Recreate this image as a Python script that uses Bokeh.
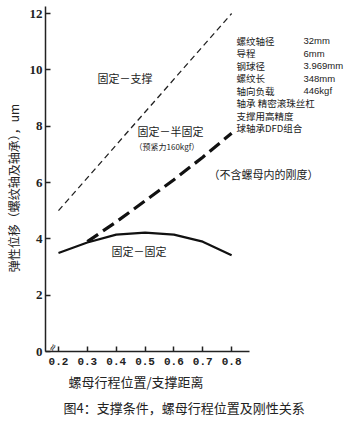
from bokeh.plotting import figure
from bokeh.models import Range1d, Label, FixedTicker, Title
from bokeh.embed import file_html
from bokeh.resources import INLINE

# ---- data ----
x_ticks = [0.2, 0.3, 0.4, 0.5, 0.6, 0.7, 0.8]
y_ticks = [0, 2, 4, 6, 8, 10, 12]

support_x = [0.2, 0.8]
support_y = [5.0, 12.0]

semi_x = [0.3, 0.4, 0.5, 0.6, 0.7, 0.8]
semi_y = [3.9, 4.6, 5.35, 6.1, 6.9, 7.75]

fixed_x = [0.2, 0.3, 0.4, 0.5, 0.6, 0.7, 0.8]
fixed_y = [3.5, 3.87, 4.15, 4.22, 4.15, 3.9, 3.42]

spec_names = ["螺纹轴径", "导程", "钢球径", "螺纹长", "轴向负载",
              "轴承 精密滚珠丝杠", "支撑用高精度", "球轴承DFD组合"]
spec_values = ["32mm", "6mm", "3.969mm", "348mm", "446kgf", "", "", ""]

y_title = "弹性位移（螺纹轴及轴承），um"
x_title = "螺母行程位置/支撑距离"
caption = "图4：支撑条件，螺母行程位置及刚性关系"

W, H = 352, 427
FL, FR, FT, FB = 45, 352, 0, 351
PX_X = 204 / 0.707      # pixels per x unit
PX_Y = 345 / 12.25      # pixels per y unit
X0 = 0.155
X1 = X0 + (FR - FL) / PX_X
Y0 = 0.0
Y1 = Y0 + (FB - FT) / PX_Y

p = figure(width=W, height=H, output_backend="svg", toolbar_location=None,
           x_range=Range1d(X0, X1), y_range=Range1d(Y0, Y1),
           min_border_left=FL, min_border_right=0,
           min_border_top=0, min_border_bottom=H - FB)
p.outline_line_color = None
p.grid.visible = False
p.background_fill_color = "white"
p.border_fill_color = "white"

for ax in (p.xaxis[0], p.yaxis[0]):
    ax.axis_line_width = 1.5
    ax.axis_line_color = "#222222"
    ax.major_tick_line_color = "#222222"
    ax.major_tick_line_width = 1.5
    ax.major_tick_in = 5
    ax.major_tick_out = 0
    ax.minor_tick_line_color = None
    ax.major_label_text_color = "#222222"

p.xaxis.bounds = (X0, 0.862)
p.yaxis.bounds = (0, 12.25)
p.xaxis.ticker = FixedTicker(ticks=x_ticks)
p.yaxis.ticker = FixedTicker(ticks=y_ticks)
p.xaxis.major_label_text_font = "Liberation Mono"
p.xaxis.major_label_text_font_style = "bold"
p.xaxis.major_label_text_font_size = "11px"
p.xaxis.major_label_standoff = 6
p.yaxis.major_label_text_font = "Liberation Serif"
p.yaxis.major_label_text_font_style = "bold"
p.yaxis.major_label_text_font_size = "13px"
p.yaxis.major_label_standoff = 3

CJK = "Noto Sans CJK SC"

p.yaxis.axis_label = y_title + "\u3000\u3000"
p.yaxis.axis_label_text_font = CJK
p.yaxis.axis_label_text_font_style = "normal"
p.yaxis.axis_label_text_font_size = "12px"
p.yaxis.axis_label_text_color = "#222222"
p.yaxis.axis_label_standoff = 5

xt = Title(text=x_title, align="left", offset=68 - FL, standoff=4,
           text_font=CJK, text_font_size="13px", text_font_style="normal",
           text_color="#222222")
p.add_layout(xt, "below")
ct = Title(text=caption, align="left", offset=63 - FL, standoff=6,
           text_font=CJK, text_font_size="13px", text_font_style="normal",
           text_color="#222222")
p.add_layout(ct, "below")

p.line(support_x, support_y, line_color="#222222", line_width=1.3, line_dash="6 4")
p.line(semi_x, semi_y, line_color="#111111", line_width=3.2, line_dash="13 6")
p.line(fixed_x, fixed_y, line_color="#111111", line_width=2.2)


def dx(px):
    return X0 + (px - FL) / PX_X


def dy(py):
    return Y0 + (FB - py) / PX_Y


def txt(s, px, py, size, align="left", font=CJK, angle=0.0):
    p.add_layout(Label(x=dx(px), y=dy(py), text=s, text_font=font,
                       text_font_size=size, text_align=align,
                       text_baseline="middle", text_color="#222222",
                       angle=angle))


txt("固定－支撑", 97, 77, "11px")
txt("固定－半固定", 137, 130, "11px")
txt("（预紧力160kgf）", 134, 146, "8px")
txt("（不含螺母内的刚度）", 208, 173, "11px")
txt("固定－固定", 111, 250, "11px")

for i, (n, v) in enumerate(zip(spec_names, spec_values)):
    yy = 40 + 12.5 * i
    txt(n, 236, yy, "9.5px")
    if v:
        txt(v, 303, yy, "9.5px", font="Liberation Sans")

txt("≈", 52, 347, "10px", align="center", font="DejaVu Sans", angle=1.1)

open("out.html", "w").write(file_html(p, INLINE))
